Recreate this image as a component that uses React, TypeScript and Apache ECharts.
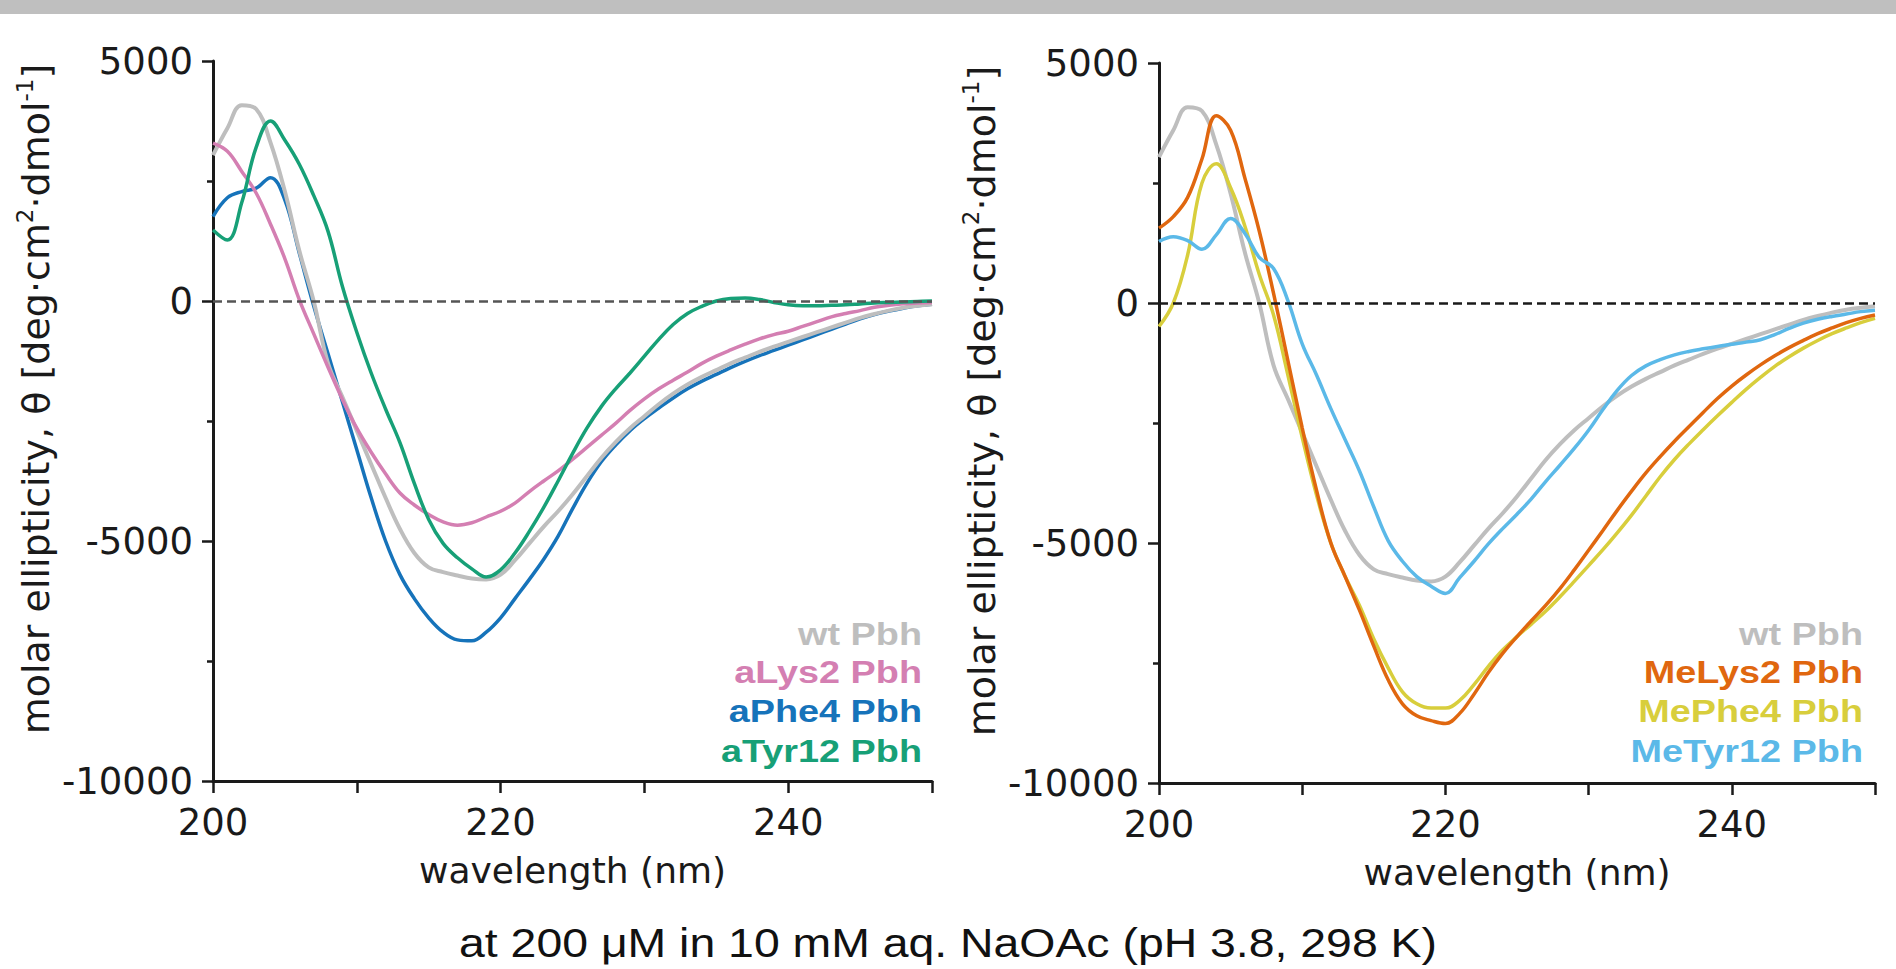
import React, { useEffect, useRef } from "react";
import * as echarts from "echarts";

// ---------- DATA ----------
const WAVELENGTH = [
  200, 201, 202, 203, 204, 205, 206, 207, 208, 209,
  210, 211, 212, 213, 214, 215, 216, 217, 218, 219,
  220, 221, 222, 223, 224, 225, 226, 227, 228, 229,
  230, 231, 232, 233, 234, 235, 236, 237, 238, 239,
  240, 241, 242, 243, 244, 245, 246, 247, 248, 249, 250,
];

const WT_PBH = [
  3040, 3600, 4080, 4000, 3300, 2280, 1050, 0, -1300, -2000,
  -2700, -3400, -4100, -4750, -5250, -5550, -5650, -5720, -5780, -5800,
  -5700, -5400, -5050, -4700, -4380, -4030, -3650, -3270, -2940, -2650,
  -2400, -2150, -1930, -1740, -1580, -1440, -1300, -1180, -1060, -950,
  -850, -750, -650, -550, -450, -350, -270, -200, -140, -100, -70,
];

const ALYS2_PBH = [
  3290, 3120, 2700, 2250, 1600, 880, 30, -680, -1380, -2050,
  -2650, -3150, -3600, -4000, -4250, -4450, -4600, -4670, -4620, -4500,
  -4380, -4210, -3970, -3750, -3540, -3300, -3050, -2800, -2550, -2280,
  -2040, -1830, -1650, -1480, -1300, -1150, -1020, -900, -790, -700,
  -630, -530, -430, -330, -260, -200, -130, -90, -60, -40, -30,
];

const APHE4_PBH = [
  1760, 2150, 2280, 2350, 2570, 2100, 1000, -100, -1100, -2100,
  -3100, -4100, -5000, -5700, -6200, -6600, -6900, -7060, -7080, -6900,
  -6600, -6200, -5800, -5380, -4900, -4330, -3800, -3350, -3000, -2700,
  -2450, -2230, -2020, -1830, -1670, -1530, -1390, -1260, -1140, -1030,
  -920, -810, -700, -590, -480, -370, -280, -210, -150, -100, -70,
];

const ATYR12_PBH = [
  1480, 1270, 2050, 3200, 3750, 3350, 2850, 2200, 1450, 300,
  -650, -1500, -2250, -2950, -3800, -4550, -5050, -5350, -5580, -5750,
  -5600, -5250, -4800, -4300, -3750, -3180, -2650, -2200, -1830, -1500,
  -1150, -800, -490, -260, -110, 0, 50, 60, 30, -30,
  -80, -100, -100, -90, -80, -60, -40, -30, -20, -10, 0,
];

const MELYS2_PBH = [
  1560, 1800, 2200, 3000, 3900, 3600, 2600, 1500, 200, -1200,
  -2600, -3900, -5000, -5700, -6400, -7150, -7850, -8350, -8600, -8700,
  -8760, -8550, -8150, -7700, -7300, -6950, -6620, -6300, -5950, -5560,
  -5150, -4740, -4320, -3920, -3540, -3200, -2880, -2580, -2280, -1990,
  -1730, -1500, -1290, -1100, -930, -780, -640, -520, -410, -320, -250,
];

const MEPHE4_PBH = [
  -490, 0, 1000, 2500, 2900, 2400, 1600, 600, -250, -1500,
  -2800, -4000, -5000, -5700, -6300, -7000, -7600, -8100, -8350, -8440,
  -8440, -8280, -7950, -7570, -7230, -6950, -6690, -6420, -6120, -5800,
  -5470, -5140, -4790, -4420, -4020, -3620, -3260, -2940, -2640, -2350,
  -2070, -1800, -1550, -1320, -1120, -940, -780, -640, -520, -410, -320,
];

const METYR12_PBH = [
  1280, 1380, 1300, 1120, 1420, 1760, 1450, 950, 720, 50,
  -850, -1500, -2200, -2850, -3500, -4250, -4950, -5380, -5700, -5900,
  -6050, -5720, -5380, -5020, -4700, -4400, -4080, -3720, -3380, -3030,
  -2650, -2220, -1820, -1510, -1310, -1180, -1080, -1010, -955, -905,
  -860, -815, -765, -660, -530, -420, -340, -280, -230, -180, -150,
];

const Y_TICKS = [-10000, -5000, 0, 5000];
const X_TICK_LABELS = [200, 220, 240];

const LEFT_NAMES = ["wt Pbh", "aLys2 Pbh", "aPhe4 Pbh", "aTyr12 Pbh"];
const RIGHT_NAMES = ["wt Pbh", "MeLys2 Pbh", "MePhe4 Pbh", "MeTyr12 Pbh"];

const CAPTION = "at 200 \u03bcM in 10 mM aq. NaOAc (pH 3.8, 298 K)";

// ---------- STYLE ----------
const C_WT = "#bebebe";
const C_ALYS = "#d47fb2";
const C_APHE = "#1673ba";
const C_ATYR = "#17a077";
const C_MELYS = "#e0670f";
const C_MEPHE = "#d8ce3c";
const C_METYR = "#5bb9e8";
const AXIS_C = "#1a1a1a";
const FONT = "DejaVu Sans";

const pairs = (ys: number[]) => WAVELENGTH.map((x, i) => [x, ys[i]]);

function makeXAxis(gridIndex: number) {
  return {
    type: "value",
    gridIndex,
    min: 200,
    max: 250,
    interval: 10,
    axisLine: { show: true, onZero: false, lineStyle: { color: AXIS_C, width: 3 } },
    axisTick: { show: true, length: 12, lineStyle: { color: AXIS_C, width: 2.5 } },
    splitLine: { show: false },
    axisLabel: {
      margin: 23,
      fontFamily: FONT,
      fontSize: 37,
      color: AXIS_C,
      formatter: (v: number) => (X_TICK_LABELS.includes(v) ? String(v) : ""),
    },
    name: "wavelength (nm)",
    nameLocation: "middle",
    nameGap: 71,
    nameTextStyle: { fontFamily: FONT, fontSize: 36, color: AXIS_C },
  };
}

function makeYAxis(gridIndex: number) {
  return {
    type: "value",
    gridIndex,
    min: -10000,
    max: 5000,
    interval: 5000,
    axisLine: { show: true, onZero: false, lineStyle: { color: AXIS_C, width: 3 } },
    axisTick: { show: true, length: 11, lineStyle: { color: AXIS_C, width: 2.5 } },
    minorTick: { show: true, splitNumber: 2, length: 6, lineStyle: { color: AXIS_C, width: 2.5 } },
    splitLine: { show: false },
    minorSplitLine: { show: false },
    axisLabel: {
      margin: 20,
      fontFamily: FONT,
      fontSize: 37,
      color: AXIS_C,
      formatter: (v: number) => (Y_TICKS.includes(v) ? String(v) : ""),
    },
    name: "{t|molar ellipticity, \u03b8 [deg\u00b7cm}{s|2}{t|\u00b7dmol}{s|-1}{t|]}",
    nameLocation: "middle",
    nameRotate: 90,
    nameGap: 154,
    nameTextStyle: {
      fontFamily: FONT,
      fontSize: 38,
      color: AXIS_C,
      padding: [0, 0, 0, 44],
      rich: {
        t: { fontFamily: FONT, fontSize: 38, color: AXIS_C, lineHeight: 46 },
        s: { fontFamily: FONT, fontSize: 23, color: AXIS_C, lineHeight: 28, verticalAlign: "top" },
      },
    },
  };
}

function lineSeries(name: string, ys: number[], color: string, gi: number, width = 3.5, extra: any = {}) {
  return {
    type: "line",
    name,
    xAxisIndex: gi,
    yAxisIndex: gi,
    data: pairs(ys),
    showSymbol: false,
    smooth: 0.4,
    lineStyle: { color, width },
    itemStyle: { color },
    silent: true,
    ...extra,
  };
}

function zeroLine(color: string) {
  return {
    markLine: {
      silent: true,
      symbol: ["none", "none"],
      label: { show: false },
      lineStyle: { color, width: 2.5, type: [9, 5] },
      data: [{ yAxis: 0 }],
    },
  };
}

function legendTexts(x: number, names: string[], colors: string[]) {
  const ys = [634, 672, 711, 751];
  return names.map((n, i) => ({
    type: "text",
    x,
    y: ys[i],
    scaleX: 1.22,
    z: 10,
    style: {
      text: n,
      fill: colors[i],
      font: "bold 31px 'Liberation Sans', Arial, sans-serif",
      textAlign: "right",
      textVerticalAlign: "middle",
    },
  }));
}

export default function App() {
  const ref = useRef<HTMLDivElement>(null);

  useEffect(() => {
    if (!ref.current) return;
    const chart = echarts.init(ref.current, null, { renderer: "svg" });
    const option: any = {
      animation: false,
      backgroundColor: "#ffffff",
      grid: [
        { left: 213, top: 61, width: 719, height: 720 },
        { left: 1159, top: 63, width: 716, height: 720 },
      ],
      xAxis: [makeXAxis(0), makeXAxis(1)],
      yAxis: [makeYAxis(0), makeYAxis(1)],
      series: [
        lineSeries("aPhe4 Pbh", APHE4_PBH, C_APHE, 0, 3.5, zeroLine("#555555")),
        lineSeries("wt Pbh", WT_PBH, C_WT, 0, 4),
        lineSeries("aLys2 Pbh", ALYS2_PBH, C_ALYS, 0),
        lineSeries("aTyr12 Pbh", ATYR12_PBH, C_ATYR, 0),
        lineSeries("wt Pbh (right)", WT_PBH, C_WT, 1, 4, zeroLine("#1a1a1a")),
        lineSeries("MePhe4 Pbh", MEPHE4_PBH, C_MEPHE, 1),
        lineSeries("MeLys2 Pbh", MELYS2_PBH, C_MELYS, 1),
        lineSeries("MeTyr12 Pbh", METYR12_PBH, C_METYR, 1),
      ],
      graphic: [
        {
          type: "rect",
          shape: { x: 0, y: 0, width: 1896, height: 14 },
          style: { fill: "#bfbfbf" },
          z: 5,
        },
        ...legendTexts(922, LEFT_NAMES, [C_WT, C_ALYS, C_APHE, C_ATYR]),
        ...legendTexts(1863, RIGHT_NAMES, [C_WT, C_MELYS, C_MEPHE, C_METYR]),
        {
          type: "text",
          x: 948,
          y: 943,
          scaleX: 1.16,
          z: 10,
          style: {
            text: CAPTION,
            fill: "#111111",
            font: "40px 'Liberation Sans', Arial, sans-serif",
            textAlign: "center",
            textVerticalAlign: "middle",
          },
        },
      ],
    };
    chart.setOption(option);
    return () => chart.dispose();
  }, []);

  return (
    <div
      ref={ref}
      style={{ position: "fixed", left: 0, top: 0, width: 1896, height: 969, background: "#fff" }}
    />
  );
}
